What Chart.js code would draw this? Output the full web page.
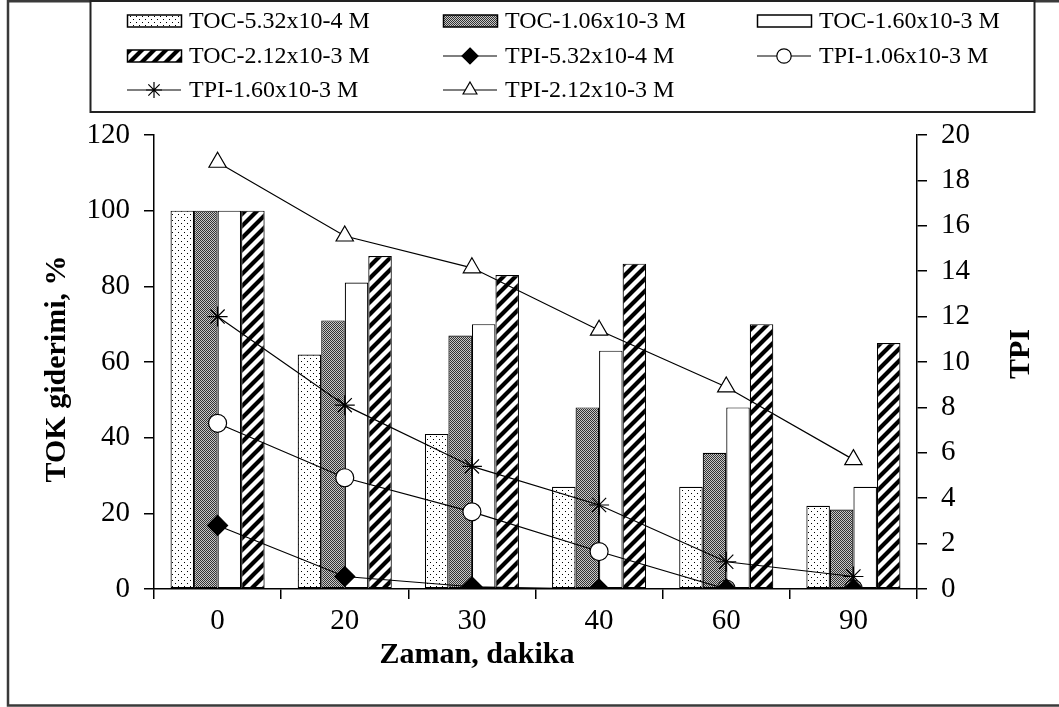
<!DOCTYPE html>
<html>
<head>
<meta charset="utf-8">
<script src="https://cdn.jsdelivr.net/npm/chart.js@4/dist/chart.umd.min.js"></script>
<style>
html,body{margin:0;padding:0;background:#fff;}
#wrap{position:relative;width:1059px;height:707px;}
</style>
</head>
<body>
<div id="wrap"><canvas id="c"></canvas></div>
<script>
// ---- data ----
const categories = ['0', '20', '30', '40', '60', '90'];
const tocLabels = ['TOC-5.32x10-4 M', 'TOC-1.06x10-3 M', 'TOC-1.60x10-3 M', 'TOC-2.12x10-3 M'];
const toc532 = [100, 62, 41, 27, 27, 22];
const toc106 = [100, 71, 67, 48, 36, 21];
const toc160 = [100, 81, 70, 63, 48, 27];
const toc212 = [100, 88, 83, 86, 70, 65];
const tpiLabels = ['TPI-5.32x10-4 M', 'TPI-1.06x10-3 M', 'TPI-1.60x10-3 M', 'TPI-2.12x10-3 M'];
const tpi532 = [2.8, 0.55, 0.1, 0, 0, 0];
const tpi106 = [7.3, 4.9, 3.4, 1.65, 0, 0];
const tpi160 = [12.0, 8.1, 5.4, 3.7, 1.2, 0.55];
const tpi212 = [18.8, 15.55, 14.15, 11.4, 8.9, 5.7];
const leftTicks = [0, 20, 40, 60, 80, 100, 120];
const rightTicks = [0, 2, 4, 6, 8, 10, 12, 14, 16, 18, 20];
const xTitle = 'Zaman, dakika';
const yTitle = 'TOK giderimi, %';
const y1Title = 'TPI';

// ---- styles ----
const SERIF = '"Liberation Serif", "Times New Roman", serif';

function makePattern(type) {
  const c = document.createElement('canvas');
  const x = c.getContext('2d');
  if (type === 'dots') {
    c.width = 6; c.height = 6;
    x.fillStyle = '#fff'; x.fillRect(0, 0, 6, 6);
    x.fillStyle = '#000'; x.fillRect(1, 1, 1, 1); x.fillRect(4, 4, 1, 1);
  } else if (type === 'grey') {
    c.width = 2; c.height = 2;
    x.fillStyle = '#c8c8c8'; x.fillRect(0, 0, 2, 2);
    x.fillStyle = '#333'; x.fillRect(0, 0, 1, 1); x.fillRect(1, 1, 1, 1);
  } else if (type === 'hatch') {
    c.width = 12; c.height = 12;
    x.fillStyle = '#fff'; x.fillRect(0, 0, 12, 12);
    x.strokeStyle = '#000'; x.lineWidth = 4.2;
    x.beginPath();
    x.moveTo(-3, 15); x.lineTo(15, -3);
    x.moveTo(-3, 3); x.lineTo(3, -3);
    x.moveTo(9, 15); x.lineTo(15, 9);
    x.stroke();
  } else {
    c.width = 1; c.height = 1;
    x.fillStyle = '#fff'; x.fillRect(0, 0, 1, 1);
  }
  return x.createPattern(c, 'repeat');
}

const barFills = [makePattern('dots'), makePattern('grey'), makePattern('white'), makePattern('hatch')];
const tocSeries = [toc532, toc106, toc160, toc212];
const tpiSeries = [tpi532, tpi106, tpi160, tpi212];
const tpiStyles = [
  {pointStyle: 'rectRot', radius: 10, bg: '#000'},
  {pointStyle: 'circle', radius: 9, bg: '#fff'},
  {pointStyle: 'star', radius: 10, bg: '#fff'},
  {pointStyle: 'triangle', radius: 10, bg: '#fff'}
];

const datasets = [];
tocSeries.forEach((vals, i) => {
  datasets.push({
    type: 'bar', label: tocLabels[i], data: vals, yAxisID: 'y',
    backgroundColor: barFills[i], borderColor: '#000', borderWidth: 1.2,
    borderSkipped: false, categoryPercentage: 0.74, barPercentage: 1.0, order: 2
  });
});
tpiSeries.forEach((vals, i) => {
  const s = tpiStyles[i];
  datasets.push({
    type: 'line', label: tpiLabels[i], data: vals, yAxisID: 'y1',
    borderColor: '#000', borderWidth: 1.2, fill: false, tension: 0,
    pointStyle: s.pointStyle, pointRadius: s.radius, pointHoverRadius: s.radius,
    pointBackgroundColor: s.bg, pointBorderColor: '#000', pointBorderWidth: 1.2, order: 1
  });
});

function drawMarker(ctx, style, r, x, y, bg) {
  ctx.save();
  ctx.fillStyle = bg; ctx.strokeStyle = '#000'; ctx.lineWidth = 1.2;
  ctx.beginPath();
  if (style === 'circle') {
    ctx.arc(x, y, r, 0, Math.PI * 2); ctx.fill(); ctx.stroke();
  } else if (style === 'rectRot') {
    ctx.moveTo(x, y - r); ctx.lineTo(x + r, y); ctx.lineTo(x, y + r); ctx.lineTo(x - r, y); ctx.closePath();
    ctx.fill(); ctx.stroke();
  } else if (style === 'triangle') {
    const w = r * 0.866;
    ctx.moveTo(x, y - r); ctx.lineTo(x + w, y + r / 2); ctx.lineTo(x - w, y + r / 2); ctx.closePath();
    ctx.fill(); ctx.stroke();
  } else if (style === 'star') {
    ctx.moveTo(x - r, y); ctx.lineTo(x + r, y);
    ctx.moveTo(x, y - r); ctx.lineTo(x, y + r);
    const d = r * 0.7071;
    ctx.moveTo(x - d, y - d); ctx.lineTo(x + d, y + d);
    ctx.moveTo(x - d, y + d); ctx.lineTo(x + d, y - d);
    ctx.stroke();
  }
  ctx.restore();
}

const framePlugin = {
  id: 'frameAndLegend',
  afterDraw(chart) {
    const ctx = chart.ctx;
    ctx.save();
    // outer frame
    ctx.strokeStyle = '#3a3a3a'; ctx.lineWidth = 2.5;
    ctx.beginPath();
    ctx.moveTo(1060, 1.2); ctx.lineTo(8, 1.2); ctx.lineTo(8, 705.5); ctx.lineTo(1060, 705.5);
    ctx.stroke();
    // legend box
    ctx.fillStyle = '#fff';
    ctx.fillRect(90, 1, 944, 111);
    ctx.strokeStyle = '#222'; ctx.lineWidth = 2;
    ctx.strokeRect(90.5, 1, 944, 111);
    const cols = [127, 443, 757];
    const rows = [21, 56, 90];
    const symW = 54;
    ctx.font = '24px ' + SERIF;
    ctx.textBaseline = 'middle';
    ctx.textAlign = 'left';
    chart.data.datasets.forEach((ds, i) => {
      const cx = cols[i % 3];
      const cy = rows[Math.floor(i / 3)];
      if (ds.type === 'bar') {
        ctx.fillStyle = ds.backgroundColor;
        ctx.fillRect(cx, cy - 6, symW, 12);
        ctx.strokeStyle = '#000'; ctx.lineWidth = 1.5;
        ctx.strokeRect(cx + 0.5, cy - 6, symW, 12);
      } else {
        ctx.strokeStyle = '#000'; ctx.lineWidth = 1.2;
        ctx.beginPath(); ctx.moveTo(cx, cy); ctx.lineTo(cx + symW, cy); ctx.stroke();
        drawMarker(ctx, ds.pointStyle, ds.pointRadius * 0.8, cx + symW / 2, cy, ds.pointBackgroundColor);
      }
      ctx.fillStyle = '#000';
      ctx.fillText(ds.label, cx + symW + 8, cy + 1);
    });
    // axis titles
    ctx.fillStyle = '#000';
    ctx.font = 'bold 30px ' + SERIF;
    ctx.textAlign = 'center';
    ctx.textBaseline = 'middle';
    ctx.fillText(xTitle, 477, 655);
    ctx.save();
    ctx.translate(57, 369); ctx.rotate(-Math.PI / 2);
    ctx.fillText(yTitle, 0, 0);
    ctx.restore();
    ctx.save();
    ctx.translate(1021, 354); ctx.rotate(-Math.PI / 2);
    ctx.fillText(y1Title, 0, 0);
    ctx.restore();
    ctx.restore();
  }
};

const tickFont = {family: SERIF, size: 29};

new Chart(document.getElementById('c'), {
  data: {labels: categories, datasets: datasets},
  options: {
    responsive: true, maintainAspectRatio: false, animation: false,
    layout: {padding: {top: 135, left: 0, right: 0, bottom: 0}},
    plugins: {legend: {display: false}, tooltip: {enabled: false}},
    scales: {
      x: {
        type: 'category',
        grid: {display: true, drawOnChartArea: false, drawTicks: true, tickLength: 10, offset: true, color: '#000', lineWidth: 1.5},
        border: {display: true, color: '#000', width: 1.5},
        ticks: {color: '#000', font: tickFont, padding: 5, maxRotation: 0},
        afterFit(s) { s.height = 118; }
      },
      y: {
        position: 'left', min: 0, max: 120,
        afterBuildTicks(s) { s.ticks = leftTicks.map(v => ({value: v})); },
        grid: {display: true, drawOnChartArea: false, drawTicks: true, tickLength: 10, color: '#000', lineWidth: 1.5},
        border: {display: true, color: '#000', width: 1.5},
        ticks: {color: '#000', font: tickFont, padding: 14},
        afterFit(s) { s.width = 154; }
      },
      y1: {
        position: 'right', min: 0, max: 20,
        afterBuildTicks(s) { s.ticks = rightTicks.map(v => ({value: v})); },
        grid: {display: true, drawOnChartArea: false, drawTicks: true, tickLength: 10, color: '#000', lineWidth: 1.5},
        border: {display: true, color: '#000', width: 1.5},
        ticks: {color: '#000', font: tickFont, padding: 14},
        afterFit(s) { s.width = 142; }
      }
    }
  },
  plugins: [framePlugin]
});
</script>
</body>
</html>
